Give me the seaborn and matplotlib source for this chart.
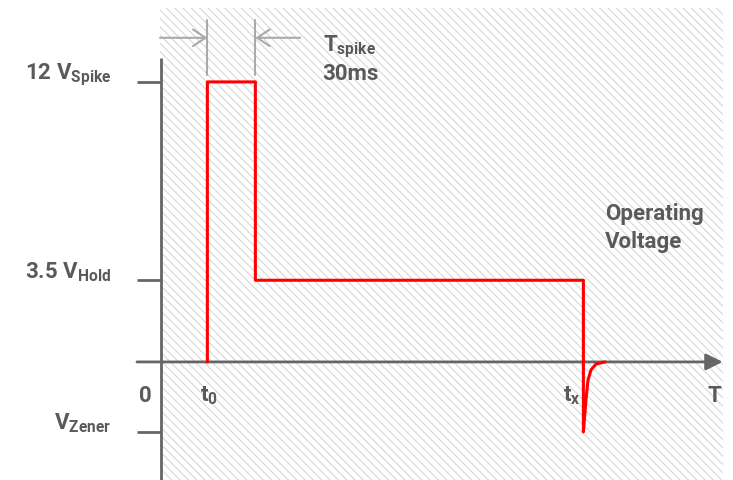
import matplotlib
matplotlib.use("Agg")
import matplotlib.pyplot as plt
import matplotlib.patches as mpatches
import pandas as pd
import seaborn as sns

# voltage levels (V) and timing (ms)
v_spike = 12
v_hold = 3.5
v_zener = -3
t0 = 29
t_spike = 30
tx = 264

level_values = [v_spike, v_hold, v_zener]
level_labels = [r"12 V$_{\rm Spike}$", r"3.5 V$_{\rm Hold}$", r"V$_{\rm Zener}$"]

# drive signal: spike, hold, then zener clamp and recovery
time_ms = [t0, t0, t0 + t_spike, t0 + t_spike, tx, tx, 265.6, 266.9, 268.8, 271.9, 277.5]
volt = [0, v_spike, v_spike, v_hold, v_hold, v_zener, -1.63, -0.77, -0.34, -0.09, 0]

signal = pd.DataFrame({"time": time_ms, "volt": volt})

sns.set_theme(style="white")
plt.rcParams["font.family"] = ["Roboto", "DejaVu Sans"]
plt.rcParams["mathtext.fontset"] = "custom"
plt.rcParams["mathtext.rm"] = "Roboto:bold"
plt.rcParams["hatch.linewidth"] = 0.7

txt = "#5a5a5a"
axc = "#666666"
light = "#aaaaaa"
fs = 16

fig = plt.figure(figsize=(7.33, 4.8), dpi=100)
ax = fig.add_axes([0, 0, 1, 1])

# hatched operating region
ax.add_patch(mpatches.Rectangle((160 / 733, 0), (723 - 160) / 733, 472 / 480,
                                transform=ax.transAxes, facecolor="white",
                                edgecolor="#d2d2d2", linewidth=0, hatch="\\\\\\\\",
                                zorder=0))

# axes
ax.plot([0, 0], [-5.06, 13.03], color=axc, lw=2, solid_capstyle="butt", zorder=2)
ax.annotate("", xy=(351, 0), xytext=(-15, 0),
            arrowprops=dict(arrowstyle="-|>,head_length=0.5,head_width=0.25",
                            mutation_scale=20, color=axc, lw=2, shrinkA=0, shrinkB=0),
            zorder=2)
for v, lab in zip(level_values, level_labels):
    ax.plot([-15, 0], [v, v], color=axc, lw=2, solid_capstyle="butt", zorder=2)
    ax.text(-31, v + 0.1, lab, ha="right", va="baseline", color=txt,
            fontsize=fs, fontweight="bold")

# time labels
ax.text(-10, -1.7, "0", ha="center", va="baseline", color=txt, fontsize=fs, fontweight="bold")
ax.text(t0 + 1, -1.7, r"t$_{\rm 0}$", ha="center", va="baseline", color=txt, fontsize=fs, fontweight="bold")
ax.text(tx - 7, -1.7, r"t$_{\rm x}$", ha="center", va="baseline", color=txt, fontsize=fs, fontweight="bold")
ax.text(346, -1.7, "T", ha="center", va="baseline", color=txt, fontsize=fs, fontweight="bold")

# spike width marker
for t in [t0, t0 + t_spike]:
    ax.plot([t, t], [12.3, 14.66], color=light, lw=1.5, zorder=2)
ax.annotate("", xy=(t0, 13.89), xytext=(-0.6, 13.89),
            arrowprops=dict(arrowstyle="->,head_length=0.45,head_width=0.3",
                            mutation_scale=20, color=light, lw=1.5, shrinkA=0, shrinkB=0))
ax.annotate("", xy=(t0 + t_spike, 13.89), xytext=(87, 13.89),
            arrowprops=dict(arrowstyle="->,head_length=0.45,head_width=0.3",
                            mutation_scale=20, color=light, lw=1.5, shrinkA=0, shrinkB=0))
ax.text(101, 13.29, r"T$_{\rm spike}$", ha="left", va="baseline", color=txt,
        fontsize=fs, fontweight="bold")
ax.text(101, 12.09, "30ms", ha="left", va="baseline", color=txt,
        fontsize=fs, fontweight="bold")

ax.text(277.5, 6.09, "Operating", ha="left", va="baseline", color=txt,
        fontsize=fs, fontweight="bold")
ax.text(277.5, 4.89, "Voltage", ha="left", va="baseline", color=txt,
        fontsize=fs, fontweight="bold")

sns.lineplot(data=signal, x="time", y="volt", sort=False, estimator=None,
             color="red", lw=2.2, ax=ax, zorder=3)
ax.set_xlim(-100.6, 357.5)
ax.set_ylim(-5.06, 15.51)
ax.axis("off")

fig.savefig("out.png", dpi=100)
